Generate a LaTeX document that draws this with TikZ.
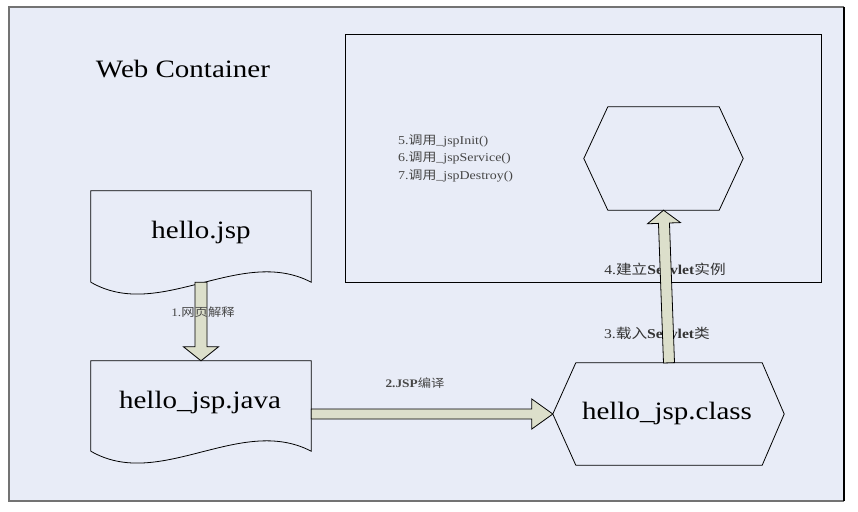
\documentclass[tikz,border=0pt]{standalone}
\usepackage{fontspec}
\setmainfont{Liberation Serif}
\newfontfamily\cjk{Noto Sans CJK SC}
\usetikzlibrary{calc}
\definecolor{bgfill}{RGB}{232,236,247}
\definecolor{arrfill}{RGB}{220,223,203}
\definecolor{labgray}{RGB}{70,70,70}
\newcommand\sx[1]{\scalebox{1.16}[1]{#1}}
\newcommand\fatarrow[5]{%
  \coordinate (hb) at ($(#2)!#5pt!(#1)$);
  \draw[fatarr] ($(#1)!#3pt!-90:(#2)$) -- ($(hb)!#3pt!-90:(#2)$) -- ($(hb)!#4pt!-90:(#2)$) -- (#2)
    -- ($(hb)!#4pt!90:(#2)$) -- ($(hb)!#3pt!90:(#2)$) -- ($(#1)!#3pt!90:(#2)$) -- cycle;}
\tikzset{
  fatarr/.style={draw=black, line width=0.8pt, fill=arrfill, line join=miter},
  shapeline/.style={draw=black, line width=0.8pt},
  holder/.style={inner sep=0pt, draw=none},
  bigtext/.style={font=\fontsize{25}{28}\selectfont, text=black},
  smalllab/.style={font=\fontsize{11.5}{13}\selectfont, text=labgray},
  steplab/.style={font=\fontsize{13.5}{15}\selectfont, text=black!80},
}
\begin{document}
\begin{tikzpicture}[x=1pt, y=-1pt]
\useasboundingbox (0,0) rectangle (858,511);
% outer container
\fill[bgfill] (9,7) rectangle (844,501);
\draw[line width=2pt, draw=black!55] (844,501) -- (9,501) -- (9,7) -- (844,7);
\draw[line width=1.5pt, draw=black] (844,7) -- (844,501);
\node[bigtext, holder] (title) at (183,69) {\sx{Web Container}};
% inner box
\node[holder, minimum width=475pt, minimum height=247pt] (inner) at (583.5,158.5) {};
\draw[line width=0.9pt] (inner.north west) rectangle (inner.south east);
% method list
\node[holder, anchor=north west, align=left, font=\fontsize{12}{17.5}\selectfont, text=labgray] (methods) at (398,134)
  {\sx{5.{\cjk 调用}\_jspInit()}\\ \sx{6.{\cjk 调用}\_jspService()}\\ \sx{7.{\cjk 调用}\_jspDestroy()}};
% hello.jsp document
\node[holder, minimum width=220pt, minimum height=91pt] (jsp) at (201,236.5) {};
\node[bigtext, holder] (jsptxt) at (201,232) {\sx{hello.jsp}};
\draw[shapeline] (jsp.south west) -- (jsp.north west) -- (jsp.north east) -- (jsp.south east)
  .. controls +(-71,-37) and +(69,40) .. (jsp.south west);
% hello_jsp.java document
\node[holder, minimum width=220pt, minimum height=90pt] (java) at (201,406) {};
\node[bigtext, holder] (javatxt) at (200,402) {\sx{hello\_jsp.java}};
\draw[shapeline] (java.south west) -- (java.north west) -- (java.north east) -- (java.south east)
  .. controls +(-71,-37) and +(69,40) .. (java.south west);
% hello_jsp.class hexagon
\node[holder, minimum width=186pt, minimum height=102pt] (cls) at (669,414) {};
\node[bigtext, holder] (clstxt) at (667,413) {\sx{hello\_jsp.class}};
\draw[shapeline] (cls.north west) -- (cls.north east) -- ($(cls.east)+(22,0)$) -- (cls.south east)
  -- (cls.south west) -- ($(cls.west)+(-23,0)$) -- cycle;
\coordinate (clsw) at ($(cls.west)+(-23,0)$);
% servlet instance hexagon
\node[holder, minimum width=111pt, minimum height=103pt] (inst) at (663.5,158.5) {};
\draw[shapeline] (inst.north west) -- (inst.north east) -- ($(inst.east)+(24,0)$) -- (inst.south east)
  -- (inst.south west) -- ($(inst.west)+(-24,0)$) -- cycle;
% step labels under the arrows
\node[smalllab, holder] (l2) at (415,383) {\sx{\textbf{2.JSP}{\cjk 编译}}};
\node[steplab, holder] (l3) at (657,333) {\sx{3.{\cjk 载入}\textbf{Servlet}{\cjk 类}}};
\node[steplab, holder] (l4) at (665,269) {\sx{4.{\cjk 建立}\textbf{Servlet}{\cjk 实例}}};
% arrows
\coordinate (a2s) at (java.east |- clsw);
\fatarrow{jsp.south}{java.north}{6}{17.5}{14}
\fatarrow{a2s}{clsw}{5}{15}{21}
\fatarrow{cls.north}{inst.south}{5.5}{16.5}{13}
% label drawn over its arrow
\node[smalllab, holder] (l1) at (203,312) {\sx{1.{\cjk 网页解释}}};
\end{tikzpicture}
\end{document}
